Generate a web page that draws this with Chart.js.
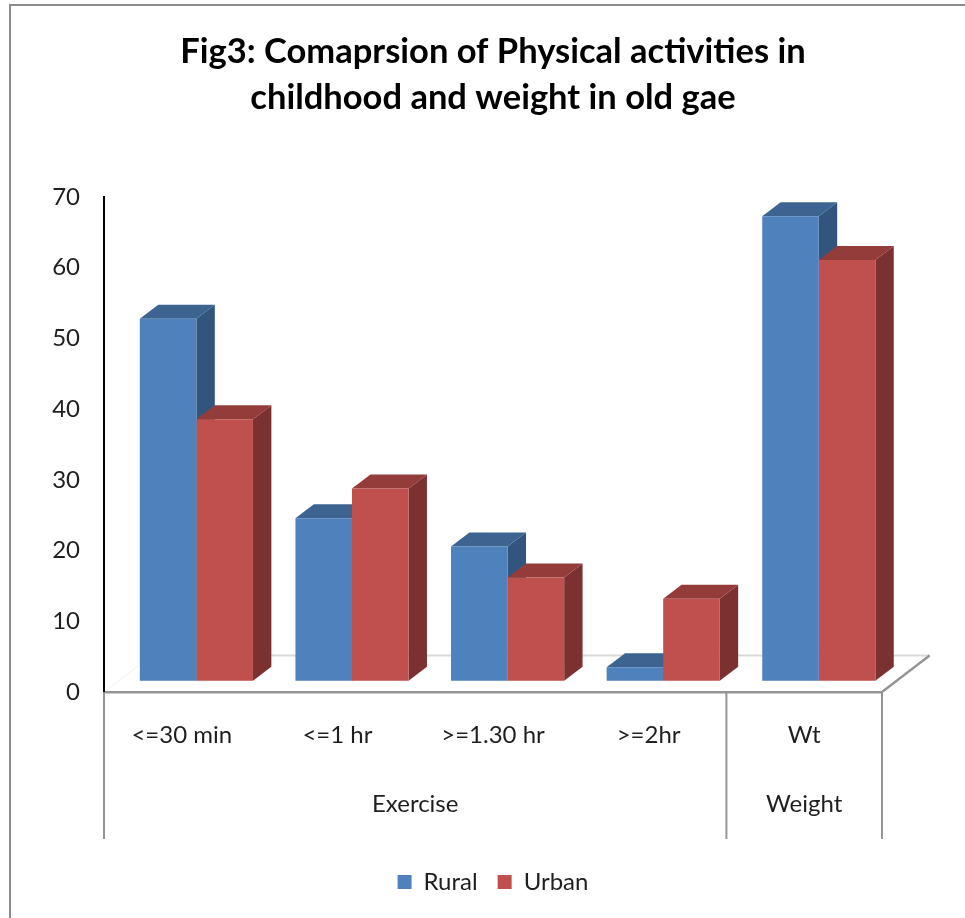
<!DOCTYPE html>
<html>
<head>
<meta charset="utf-8">
<script src="https://cdn.jsdelivr.net/npm/chart.js@4.4.0/dist/chart.umd.min.js"></script>
<style>
  html, body { margin: 0; padding: 0; background: #fff; overflow: hidden; }
</style>
</head>
<body>
<canvas id="myChart" width="965" height="918"></canvas>
<script>
// data
const categories = ['<=30 min', '<=1 hr', '>=1.30 hr', '>=2hr', 'Wt'];
const groups = ['Exercise', 'Exercise', 'Exercise', 'Exercise', 'Weight'];
const rural = [51.2, 23, 19, 1.9, 65.7];
const urban = [37, 27.2, 14.6, 11.6, 59.5];
const yMax = 70;
const yStep = 10;

// fake 3d look (excel style column chart)
const floorDepth = { x: 47.6, y: -36.4 };
const barDepth = { x: 18.4, y: -14 };
const barShift = { x: (floorDepth.x - barDepth.x) / 2, y: (floorDepth.y - barDepth.y) / 2 };
const textColor = '#1f1f1f';

const frameAndFloor = {
    id: 'frameAndFloor',
    beforeDraw(chart) {
        const ctx = chart.ctx;
        const a = chart.chartArea;
        ctx.save();
        ctx.fillStyle = '#fff';
        ctx.fillRect(0, 0, chart.width, chart.height);
        // outer frame
        ctx.strokeStyle = '#8c8c8c';
        ctx.lineWidth = 2;
        ctx.beginPath();
        ctx.moveTo(10, chart.height);
        ctx.lineTo(10, 5);
        ctx.lineTo(chart.width, 5);
        ctx.stroke();
        // floor
        ctx.strokeStyle = '#f2f2f2';
        ctx.lineWidth = 1;
        ctx.beginPath();
        ctx.moveTo(a.left, a.bottom);
        ctx.lineTo(a.left + floorDepth.x, a.bottom + floorDepth.y);
        ctx.stroke();
        ctx.strokeStyle = '#d9d9d9';
        ctx.lineWidth = 2;
        ctx.beginPath();
        ctx.moveTo(a.left + floorDepth.x, a.bottom + floorDepth.y);
        ctx.lineTo(a.right + floorDepth.x, a.bottom + floorDepth.y);
        ctx.stroke();
        ctx.strokeStyle = '#959595';
        ctx.lineWidth = 2.5;
        ctx.beginPath();
        ctx.moveTo(a.right, a.bottom);
        ctx.lineTo(a.right + floorDepth.x, a.bottom + floorDepth.y);
        ctx.stroke();
        ctx.restore();
    }
};

const bars3d = {
    id: 'bars3d',
    beforeDatasetsDraw(chart) {
        const ctx = chart.ctx;
        ctx.save();
        ctx.translate(barShift.x, barShift.y);
        chart.data.datasets.forEach((ds, i) => {
            chart.getDatasetMeta(i).data.forEach(bar => {
                const l = bar.x - bar.width / 2;
                const r = bar.x + bar.width / 2;
                const dx = barDepth.x, dy = barDepth.y;
                ctx.fillStyle = ds.sideColor;
                ctx.beginPath();
                ctx.moveTo(r, bar.y);
                ctx.lineTo(r + dx, bar.y + dy);
                ctx.lineTo(r + dx, bar.base + dy);
                ctx.lineTo(r, bar.base);
                ctx.closePath();
                ctx.fill();
                ctx.fillStyle = ds.topColor;
                ctx.beginPath();
                ctx.moveTo(l, bar.y);
                ctx.lineTo(l + dx, bar.y + dy);
                ctx.lineTo(r + dx, bar.y + dy);
                ctx.lineTo(r, bar.y);
                ctx.closePath();
                ctx.fill();
            });
        });
        // front faces are drawn by chart.js with this translation still on
    },
    afterDatasetsDraw(chart) {
        chart.ctx.restore();
    }
};

const groupAxis = {
    id: 'groupAxis',
    afterDraw(chart) {
        const ctx = chart.ctx;
        const x = chart.scales.x;
        const a = chart.chartArea;
        const lineEnd = a.bottom + 147;
        // find group edges
        const edges = [x.left];
        const names = [groups[0]];
        for (let i = 1; i < groups.length; i++) {
            if (groups[i] !== groups[i - 1]) {
                edges.push((x.getPixelForTick(i - 1) + x.getPixelForTick(i)) / 2);
                names.push(groups[i]);
            }
        }
        edges.push(x.right);
        ctx.save();
        ctx.strokeStyle = '#959595';
        ctx.lineWidth = 2;
        edges.forEach(e => {
            ctx.beginPath();
            ctx.moveTo(e, a.bottom);
            ctx.lineTo(e, lineEnd);
            ctx.stroke();
        });
        ctx.fillStyle = textColor;
        ctx.font = '24px Lato';
        ctx.textAlign = 'center';
        ctx.textBaseline = 'middle';
        names.forEach((n, i) => {
            ctx.fillText(n, (edges[i] + edges[i + 1]) / 2, a.bottom + 112);
        });
        ctx.restore();
    }
};

const ctx = document.getElementById('myChart').getContext('2d');
const myChart = new Chart(ctx, {
    type: 'bar',
    data: {
        labels: categories,
        datasets: [{
            label: 'Rural',
            data: rural,
            backgroundColor: '#4f81bd',
            topColor: '#3d6491',
            sideColor: '#32557e',
            borderWidth: 0,
            clip: false
        }, {
            label: 'Urban',
            data: urban,
            backgroundColor: '#c0504d',
            topColor: '#943c3a',
            sideColor: '#7b3130',
            borderWidth: 0,
            clip: false
        }]
    },
    plugins: [frameAndFloor, bars3d, groupAxis],
    options: {
        responsive: false,
        animation: false,
        devicePixelRatio: 1,
        categoryPercentage: 0.727,
        barPercentage: 1.0,
        layout: {
            padding: { left: 0, right: 83, top: 0, bottom: 14 }
        },
        scales: {
            x: {
                grid: { display: false, drawTicks: false },
                border: { display: true, color: '#959595', width: 2.5 },
                ticks: {
                    color: textColor,
                    font: { family: 'Lato', size: 24 },
                    padding: 29,
                    maxRotation: 0,
                    autoSkip: false
                },
                afterFit(scale) { scale.height = 158; }
            },
            y: {
                min: 0,
                max: yMax,
                grid: { display: false, drawTicks: false },
                border: { display: true, color: '#000', width: 2 },
                ticks: {
                    stepSize: yStep,
                    color: textColor,
                    font: { family: 'Lato', size: 24 },
                    padding: 24
                },
                afterFit(scale) { scale.width = 104; }
            }
        },
        plugins: {
            title: {
                display: true,
                fullSize: false,
                text: ['Fig3: Comaprsion of Physical activities in', 'childhood and weight in old gae'],
                color: '#000',
                font: { family: 'Lato', size: 34.5, weight: 'bold', lineHeight: 1.333 },
                padding: { top: 29, bottom: 76 }
            },
            legend: {
                position: 'bottom',
                fullSize: false,
                labels: {
                    color: textColor,
                    font: { family: 'Lato', size: 24 },
                    boxWidth: 14,
                    boxHeight: 14,
                    padding: 20
                }
            },
            tooltip: { enabled: false }
        }
    }
});
</script>
</body>
</html>
